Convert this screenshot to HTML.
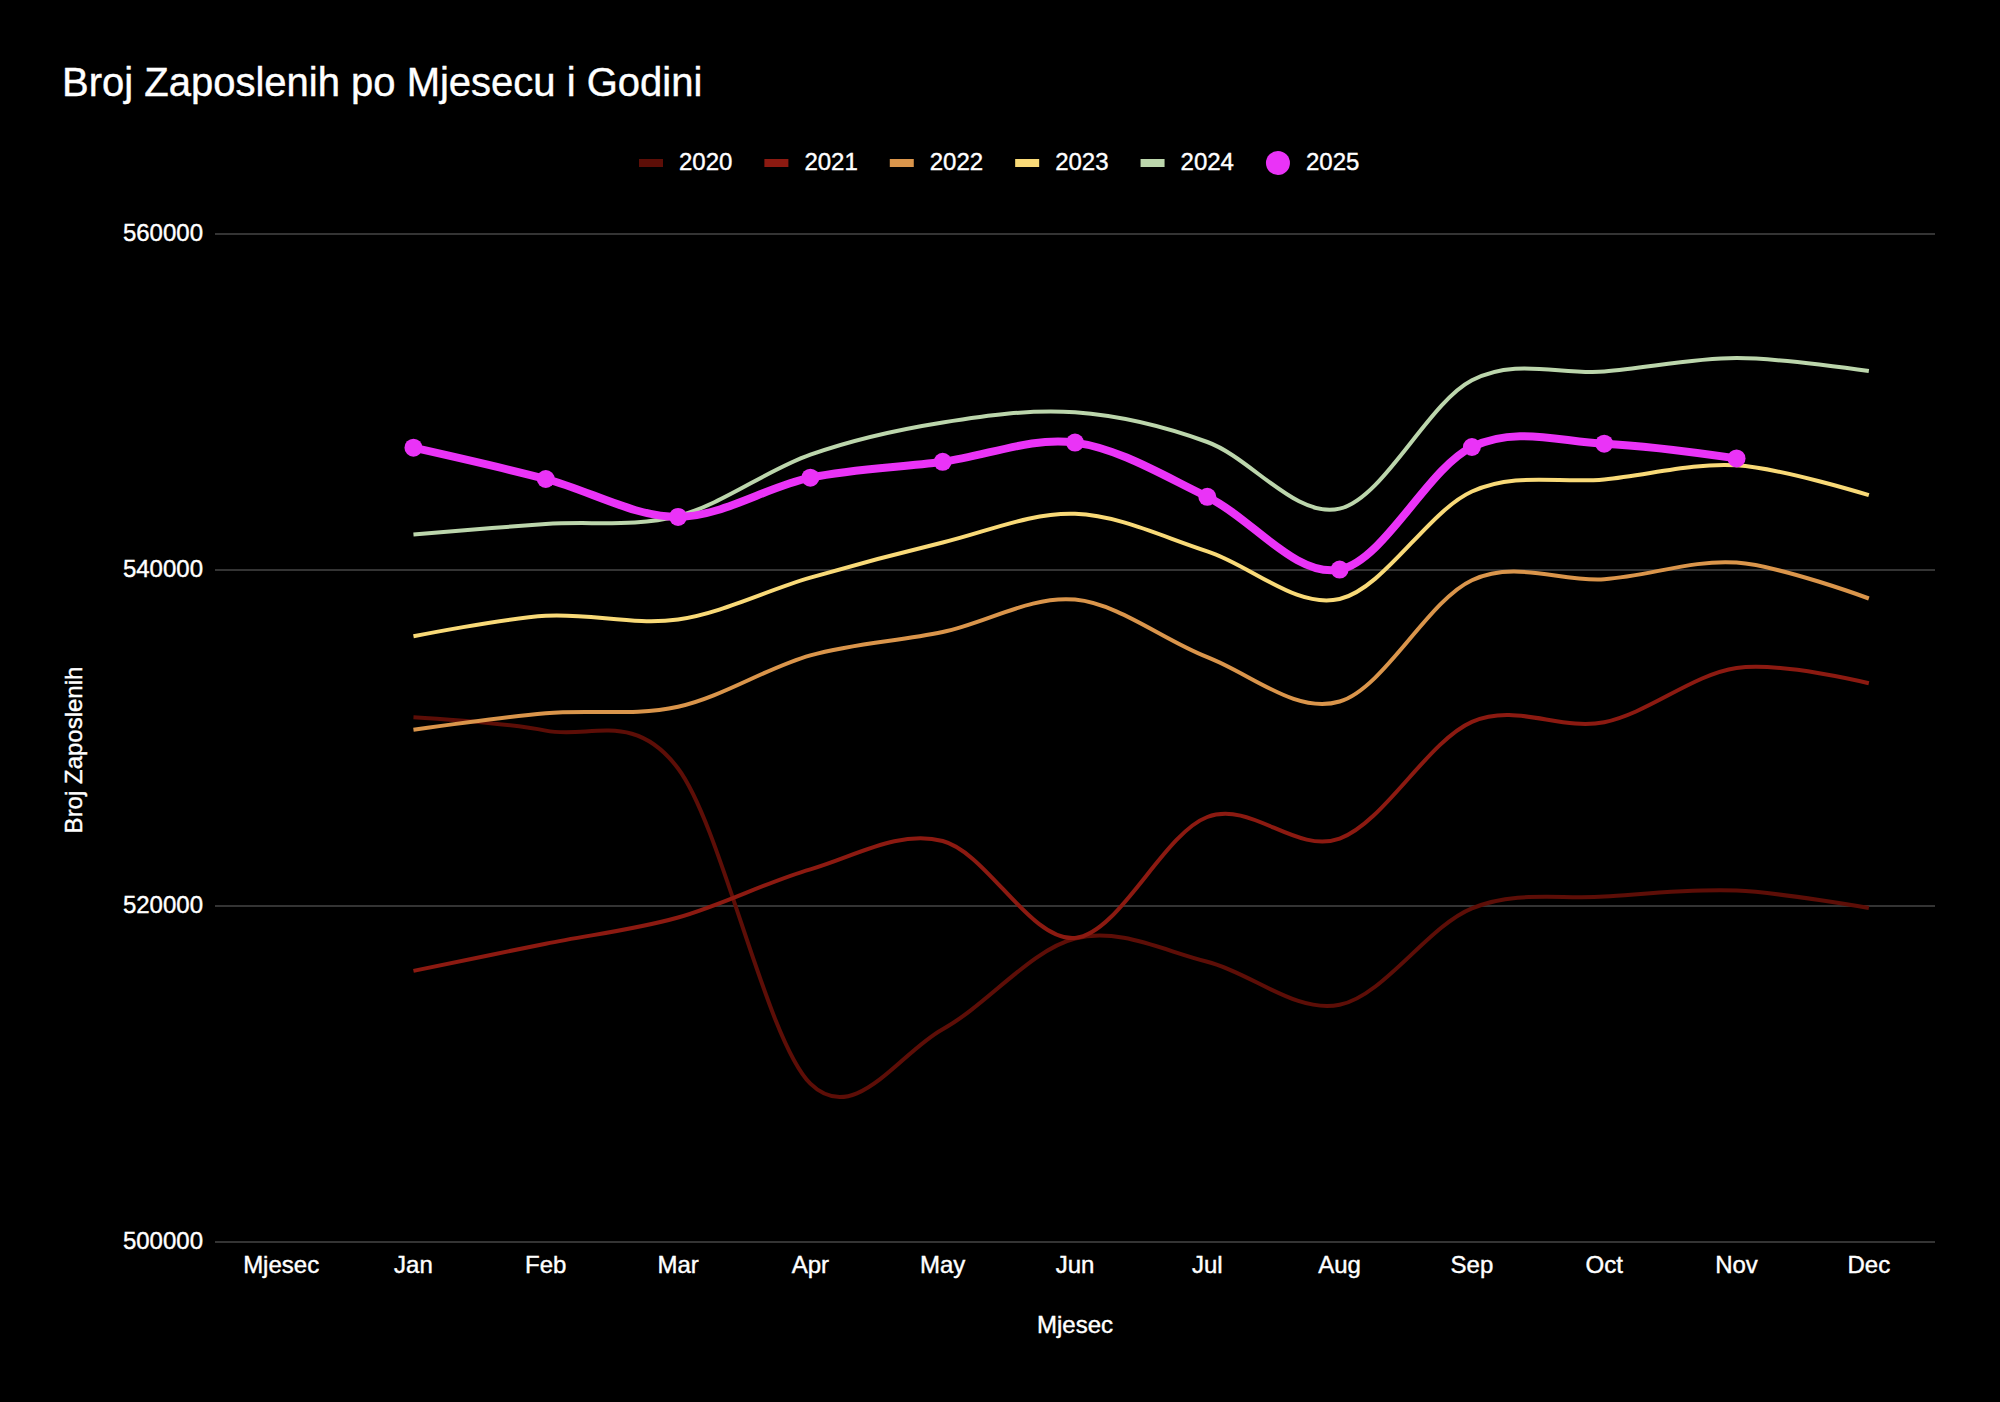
<!DOCTYPE html>
<html lang="hr"><head><meta charset="utf-8"><title>Broj Zaposlenih po Mjesecu i Godini</title>
<style>html,body{margin:0;padding:0;background:#000;}body{width:2000px;height:1402px;overflow:hidden;}svg{display:block;}text{font-family:"Liberation Sans",Arial,sans-serif;fill:#fff;stroke:#fff;stroke-width:0.4px;}</style></head><body>
<svg width="2000" height="1402" viewBox="0 0 2000 1402">
<rect x="0" y="0" width="2000" height="1402" fill="#000"/>
<text x="62" y="96" font-size="40">Broj Zaposlenih po Mjesecu i Godini</text>
<rect x="639.00" y="159" width="24" height="8" fill="#5d0e07"/>
<text x="679.00" y="170" font-size="24">2020</text>
<rect x="764.39" y="159" width="24" height="8" fill="#8c1a11"/>
<text x="804.39" y="170" font-size="24">2021</text>
<rect x="889.78" y="159" width="24" height="8" fill="#da954b"/>
<text x="929.78" y="170" font-size="24">2022</text>
<rect x="1015.17" y="159" width="24" height="8" fill="#f9da78"/>
<text x="1055.17" y="170" font-size="24">2023</text>
<rect x="1140.56" y="159" width="24" height="8" fill="#bcd6ac"/>
<text x="1180.56" y="170" font-size="24">2024</text>
<circle cx="1277.95" cy="163" r="12" fill="#ea33f7"/>
<text x="1305.95" y="170" font-size="24">2025</text>
<rect x="215" y="233" width="1720" height="2" fill="#343434"/>
<text x="203" y="241.3" font-size="24" text-anchor="end">560000</text>
<rect x="215" y="569" width="1720" height="2" fill="#343434"/>
<text x="203" y="577.3" font-size="24" text-anchor="end">540000</text>
<rect x="215" y="905" width="1720" height="2" fill="#343434"/>
<text x="203" y="913.3" font-size="24" text-anchor="end">520000</text>
<rect x="215" y="1241" width="1720" height="2" fill="#343434"/>
<text x="203" y="1249.3" font-size="24" text-anchor="end">500000</text>
<text x="281.15" y="1273" font-size="24" text-anchor="middle">Mjesec</text>
<text x="413.46" y="1273" font-size="24" text-anchor="middle">Jan</text>
<text x="545.77" y="1273" font-size="24" text-anchor="middle">Feb</text>
<text x="678.08" y="1273" font-size="24" text-anchor="middle">Mar</text>
<text x="810.38" y="1273" font-size="24" text-anchor="middle">Apr</text>
<text x="942.69" y="1273" font-size="24" text-anchor="middle">May</text>
<text x="1075.00" y="1273" font-size="24" text-anchor="middle">Jun</text>
<text x="1207.31" y="1273" font-size="24" text-anchor="middle">Jul</text>
<text x="1339.62" y="1273" font-size="24" text-anchor="middle">Aug</text>
<text x="1471.92" y="1273" font-size="24" text-anchor="middle">Sep</text>
<text x="1604.23" y="1273" font-size="24" text-anchor="middle">Oct</text>
<text x="1736.54" y="1273" font-size="24" text-anchor="middle">Nov</text>
<text x="1868.85" y="1273" font-size="24" text-anchor="middle">Dec</text>
<text x="1075" y="1333" font-size="24" text-anchor="middle">Mjesec</text>
<text transform="translate(82,750) rotate(-90)" font-size="24" text-anchor="middle">Broj Zaposlenih</text>
<path d="M413.46,717.20C413.46,717.20,501.67,722.05,545.77,730.60C589.87,739.15,633.97,709.65,678.08,768.50C722.18,827.35,766.28,1040.25,810.38,1083.70C854.49,1127.15,898.59,1053.40,942.69,1029.20C986.79,1005.00,1030.90,949.75,1075.00,938.50C1119.10,927.25,1163.21,950.65,1207.31,961.70C1251.41,972.75,1295.51,1013.70,1339.62,1004.80C1383.72,995.90,1427.82,926.33,1471.92,908.30C1516.03,890.27,1560.13,899.55,1604.23,896.60C1648.33,893.65,1692.44,888.70,1736.54,890.60C1780.64,892.50,1868.85,908.00,1868.85,908.00" fill="none" stroke="#5d0e07" stroke-width="4"/>
<path d="M413.46,970.90C413.46,970.90,501.67,952.60,545.77,943.70C589.87,934.80,633.97,929.90,678.08,917.50C722.18,905.10,766.28,882.05,810.38,869.30C854.49,856.55,898.59,829.55,942.69,841.00C986.79,852.45,1030.90,942.00,1075.00,938.00C1119.10,934.00,1163.21,833.57,1207.31,817.00C1251.41,800.43,1295.51,854.47,1339.62,838.60C1383.72,822.73,1427.82,741.20,1471.92,721.80C1516.03,702.40,1560.13,731.17,1604.23,722.20C1648.33,713.23,1692.44,674.50,1736.54,668.00C1780.64,661.50,1868.85,683.20,1868.85,683.20" fill="none" stroke="#8c1a11" stroke-width="4"/>
<path d="M413.46,729.70C413.46,729.70,501.67,717.03,545.77,713.20C589.87,709.37,633.97,716.35,678.08,706.70C722.18,697.05,766.28,667.75,810.38,655.30C854.49,642.85,898.59,641.28,942.69,632.00C986.79,622.72,1030.90,595.42,1075.00,599.60C1119.10,603.78,1163.21,640.12,1207.31,657.10C1251.41,674.08,1295.51,714.32,1339.62,701.50C1383.72,688.68,1427.82,600.58,1471.92,580.20C1516.03,559.82,1560.13,582.13,1604.23,579.20C1648.33,576.27,1692.44,559.38,1736.54,562.60C1780.64,565.82,1868.85,598.50,1868.85,598.50" fill="none" stroke="#da954b" stroke-width="4"/>
<path d="M413.46,636.30C413.46,636.30,501.67,618.60,545.77,615.80C589.87,613.00,633.97,625.85,678.08,619.50C722.18,613.15,766.28,590.53,810.38,577.70C854.49,564.87,898.59,553.15,942.69,542.50C986.79,531.85,1030.90,512.33,1075.00,513.80C1119.10,515.27,1163.21,537.10,1207.31,551.30C1251.41,565.50,1295.51,608.97,1339.62,599.00C1383.72,589.03,1427.82,511.43,1471.92,491.50C1516.03,471.57,1560.13,483.77,1604.23,479.40C1648.33,475.03,1692.44,462.67,1736.54,465.30C1780.64,467.93,1868.85,495.20,1868.85,495.20" fill="none" stroke="#f9da78" stroke-width="4"/>
<path d="M413.46,534.40C413.46,534.40,501.67,527.07,545.77,524.00C589.87,520.93,633.97,527.55,678.08,516.00C722.18,504.45,766.28,470.28,810.38,454.70C854.49,439.12,898.59,429.57,942.69,422.50C986.79,415.43,1030.90,409.05,1075.00,412.30C1119.10,415.55,1163.21,425.95,1207.31,442.00C1251.41,458.05,1295.51,518.90,1339.62,508.60C1383.72,498.30,1427.82,403.05,1471.92,380.20C1516.03,357.35,1560.13,375.18,1604.23,371.50C1648.33,367.82,1692.44,358.17,1736.54,358.10C1780.64,358.03,1868.85,371.10,1868.85,371.10" fill="none" stroke="#bcd6ac" stroke-width="4"/>
<path d="M413.46,447.70C413.46,447.70,501.67,467.47,545.77,479.00C589.87,490.53,633.97,517.12,678.08,516.90C722.18,516.68,766.28,486.88,810.38,477.70C854.49,468.52,898.59,467.65,942.69,461.80C986.79,455.95,1030.90,436.77,1075.00,442.60C1119.10,448.43,1163.21,475.63,1207.31,496.80C1251.41,517.97,1295.51,577.90,1339.62,569.60C1383.72,561.30,1427.82,467.98,1471.92,447.00C1516.03,426.02,1560.13,441.80,1604.23,443.70C1648.33,445.60,1736.54,458.40,1736.54,458.40" fill="none" stroke="#ea33f7" stroke-width="8"/>
<circle cx="413.46" cy="447.70" r="9" fill="#ea33f7"/>
<circle cx="545.77" cy="479.00" r="9" fill="#ea33f7"/>
<circle cx="678.08" cy="516.90" r="9" fill="#ea33f7"/>
<circle cx="810.38" cy="477.70" r="9" fill="#ea33f7"/>
<circle cx="942.69" cy="461.80" r="9" fill="#ea33f7"/>
<circle cx="1075.00" cy="442.60" r="9" fill="#ea33f7"/>
<circle cx="1207.31" cy="496.80" r="9" fill="#ea33f7"/>
<circle cx="1339.62" cy="569.60" r="9" fill="#ea33f7"/>
<circle cx="1471.92" cy="447.00" r="9" fill="#ea33f7"/>
<circle cx="1604.23" cy="443.70" r="9" fill="#ea33f7"/>
<circle cx="1736.54" cy="458.40" r="9" fill="#ea33f7"/>
</svg></body></html>
